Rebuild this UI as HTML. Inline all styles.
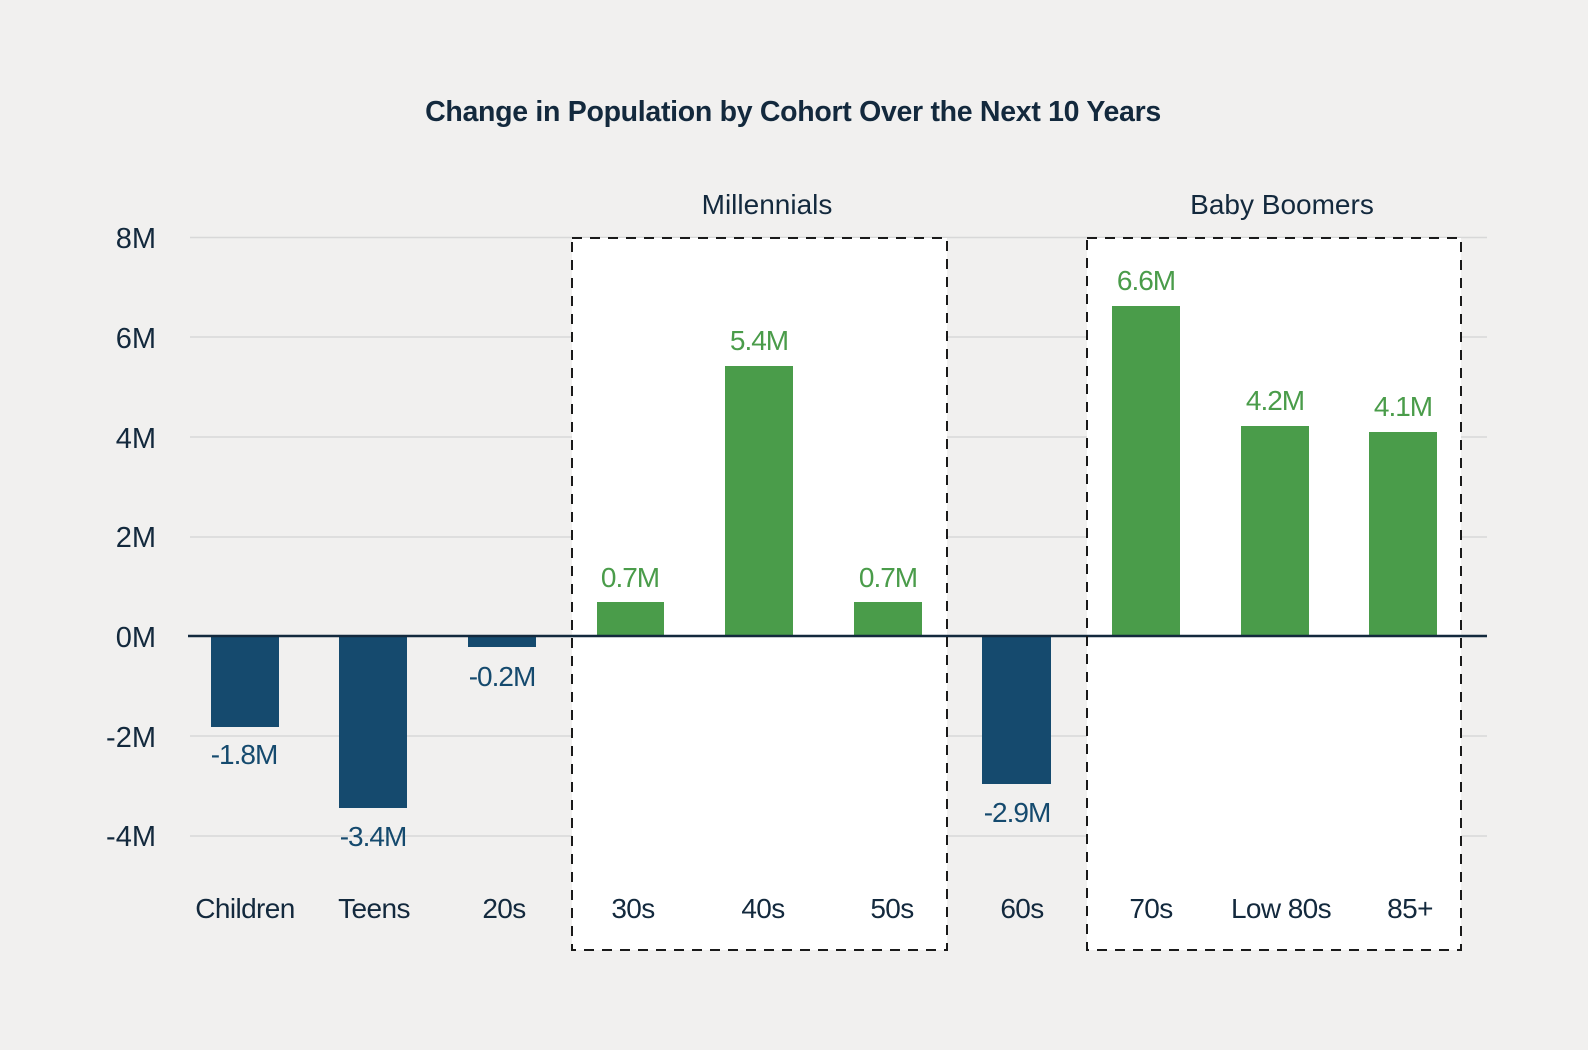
<!DOCTYPE html>
<html><head><meta charset="utf-8"><style>
html,body{margin:0;padding:0;background:#f1f0ef;}
svg{display:block;font-family:"Liberation Sans",sans-serif;}
</style></head><body>
<svg width="1588" height="1050" viewBox="0 0 1588 1050" xmlns="http://www.w3.org/2000/svg">
<rect width="1588" height="1050" fill="#f1f0ef"/>
<text x="793" y="121" text-anchor="middle" font-size="28.5" font-weight="bold" fill="#13293d" letter-spacing="-0.3">Change in Population by Cohort Over the Next 10 Years</text>
<g stroke="#d8d8d8" stroke-width="1.5">
<line x1="190" x2="1487" y1="237.5" y2="237.5"/>
<line x1="190" x2="1487" y1="337" y2="337"/>
<line x1="190" x2="1487" y1="437" y2="437"/>
<line x1="190" x2="1487" y1="537" y2="537"/>
<line x1="190" x2="1487" y1="736" y2="736"/>
<line x1="190" x2="1487" y1="836" y2="836"/>
</g>
<g font-size="29" fill="#13293d" text-anchor="end">
<text x="156" y="248">8M</text>
<text x="156" y="348">6M</text>
<text x="156" y="448">4M</text>
<text x="156" y="547">2M</text>
<text x="156" y="647">0M</text>
<text x="156" y="747">-2M</text>
<text x="156" y="846">-4M</text>
</g>
<rect x="572" y="238" width="375" height="712" fill="#ffffff"/>
<rect x="1087" y="238" width="374" height="712" fill="#ffffff"/>
<g fill="#154a6e">
<rect x="211" y="636" width="68" height="91"/>
<rect x="339" y="636" width="68" height="172"/>
<rect x="468" y="636" width="68" height="11"/>
<rect x="982" y="636" width="69" height="148"/>
</g>
<g fill="#4a9c4a">
<rect x="597" y="602" width="67" height="34"/>
<rect x="725" y="366" width="68" height="270"/>
<rect x="854" y="602" width="68" height="34"/>
<rect x="1112" y="306" width="68" height="330"/>
<rect x="1241" y="426" width="68" height="210"/>
<rect x="1369" y="432" width="68" height="204"/>
</g>
<line x1="188" x2="1487" y1="636" y2="636" stroke="#13293d" stroke-width="2.5"/>
<g fill="none" stroke="#1a1a1a" stroke-width="2" stroke-dasharray="10,8">
<rect x="572" y="238" width="375" height="712"/>
<rect x="1087" y="238" width="374" height="712"/>
</g>
<g font-size="28" fill="#13293d" text-anchor="middle">
<text x="767" y="214">Millennials</text>
<text x="1282" y="214">Baby Boomers</text>
</g>
<g font-size="28" fill="#13293d" text-anchor="middle" letter-spacing="-0.6">
<text x="245" y="918">Children</text>
<text x="374" y="918">Teens</text>
<text x="504" y="918">20s</text>
<text x="633" y="918">30s</text>
<text x="763" y="918">40s</text>
<text x="892" y="918">50s</text>
<text x="1022" y="918">60s</text>
<text x="1151" y="918">70s</text>
<text x="1281" y="918">Low 80s</text>
<text x="1410" y="918">85+</text>
</g>
<g font-size="28" fill="#154a6e" text-anchor="middle" letter-spacing="-1">
<text x="244" y="764">-1.8M</text>
<text x="373" y="846">-3.4M</text>
<text x="502" y="686">-0.2M</text>
<text x="1017" y="822">-2.9M</text>
</g>
<g font-size="28" fill="#4a9c4a" text-anchor="middle" letter-spacing="-1">
<text x="630" y="587">0.7M</text>
<text x="759" y="350">5.4M</text>
<text x="888" y="587">0.7M</text>
<text x="1146" y="290">6.6M</text>
<text x="1275" y="410">4.2M</text>
<text x="1403" y="416">4.1M</text>
</g>
</svg>
</body></html>
